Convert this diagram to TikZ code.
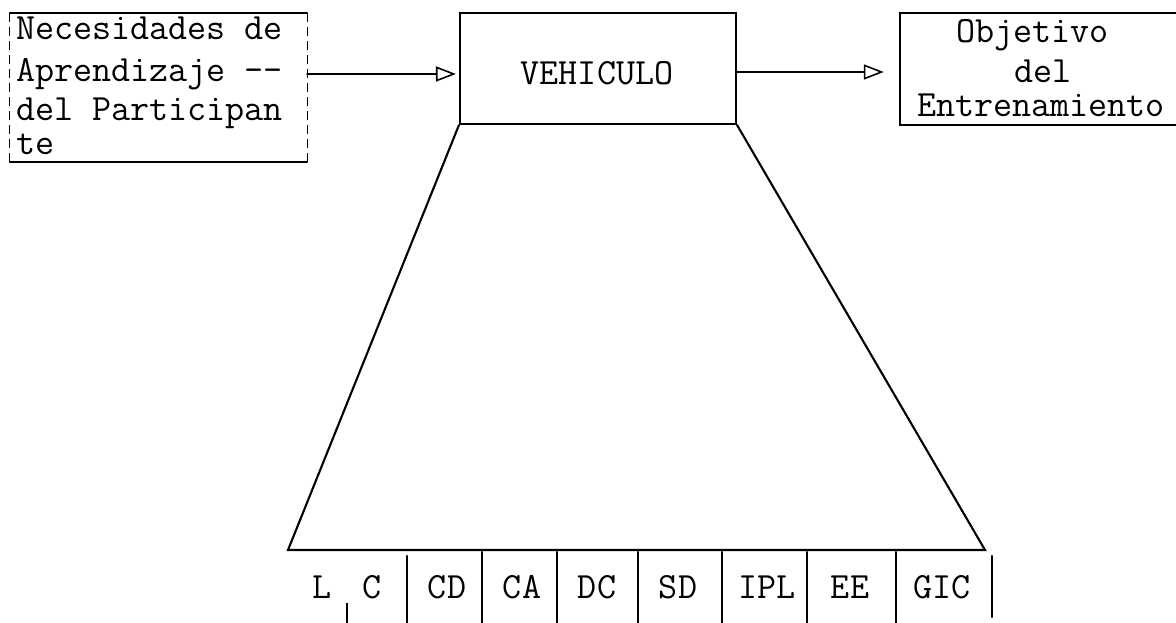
\documentclass[tikz,border=0pt]{standalone}
\usepackage{fontspec}
\usetikzlibrary{arrows.meta}
\begin{document}
\begin{tikzpicture}[x=1pt,y=-1pt,
  txt/.style={font=\ttfamily\fontsize{37}{40}\selectfont, inner sep=0pt, anchor=base west},
  ctxt/.style={txt, anchor=base},
  ln/.style={line width=2.1pt, line cap=round},
  thin/.style={line width=1.2pt, dashed, dash pattern=on 9pt off 5pt},
  boxn/.style={draw=none, inner sep=0pt},
  arr/.style={ln, -{Triangle[open, length=20pt, width=15pt, line width=1.6pt]}}]
\useasboundingbox (0,0) rectangle (1176,623);
% boxes
\node[boxn, minimum width=297pt, minimum height=149pt] (lb) at (158.5,87.5) {};
\node[ln, draw, minimum width=276pt, minimum height=111pt] (veh) at (598,68.5) {};
\node[boxn, minimum width=290pt, minimum height=112pt] (ob) at (1045,69) {};
\draw[ln] (lb.north west) -- (lb.north east);
\draw[ln] (lb.south west) -- (lb.south east);
\draw[thin] (lb.north west) -- (lb.south west);
\draw[thin] (lb.north east) -- (lb.south east);
\draw[ln] (ob.north east) -- (ob.north west) -- (ob.south west) -- (ob.south east);
% texts
\node[txt] (n1) at (16,40) {Necesidades de};
\node[txt] (n2) at (16,82) {Aprendizaje --};
\node[txt] (n3) at (16,121) {del Participan};
\node[txt] (n4) at (16,155) {te};
\node[ctxt] (vt) at (597,85) {VEHICULO};
\node[txt] (o1) at (956,43) {Objetivo};
\node[txt] (o2) at (1014,83) {del};
\node[txt] (o3) at (917,117) {Entrenamiento};
% arrows
\coordinate (ay1) at (0,74);
\coordinate (ay2) at (0,72);
\draw[arr] (lb.east |- ay1) -- ([xshift=-3pt]veh.west |- ay1);
\draw[arr] (veh.east |- ay2) -- ([xshift=-16pt]ob.west |- ay2);
% trapezoid
\coordinate (bl) at (288,550);
\coordinate (br) at (985,550);
\draw[ln] (veh.south west) -- (bl) -- (br) -- (veh.south east);
% cell dividers
\coordinate (d0) at (347,603);
\draw[line width=1.2pt] (d0) -- (347,623);
\foreach \x/\t in {407/556,482/552,557/552,638/552,722/552,807/552,896/552}{
  \coordinate (d\x) at (\x,\t);
  \draw[ln] (d\x) -- (\x,623);
}
\coordinate (d992) at (992,556);
\draw[ln] (d992) -- (992,617);
% cell labels
\node[ctxt] (c1) at (322,598) {L};
\node[ctxt] (c2) at (372,598) {C};
\node[ctxt] (c3) at (447,598) {CD};
\node[ctxt] (c4) at (522,598) {CA};
\node[ctxt] (c5) at (597,598) {DC};
\node[ctxt] (c6) at (678,598) {SD};
\node[ctxt] (c7) at (767,598) {IPL};
\node[ctxt] (c8) at (850,598) {EE};
\node[ctxt] (c9) at (942,598) {GIC};
\end{tikzpicture}
\end{document}
